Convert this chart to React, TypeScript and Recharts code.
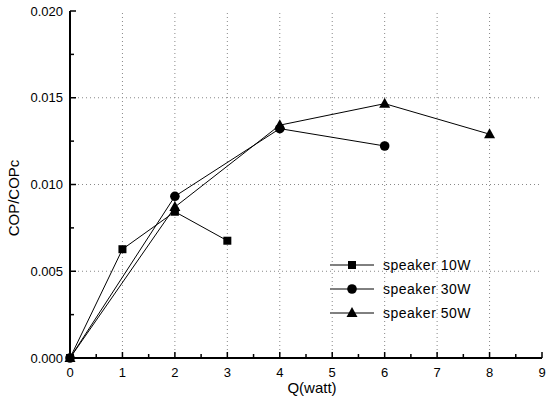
import { LineChart, Line, XAxis, YAxis, ReferenceLine } from "recharts";

const xMajor = [0, 1, 2, 3, 4, 5, 6, 7, 8, 9];
const xTicks = [0, 0.5, 1, 1.5, 2, 2.5, 3, 3.5, 4, 4.5, 5, 5.5, 6, 6.5, 7, 7.5, 8, 8.5, 9];
const yMajor = [0, 0.005, 0.01, 0.015, 0.02];
const yTicks = [0, 0.0025, 0.005, 0.0075, 0.01, 0.0125, 0.015, 0.0175, 0.02];

const q10 = [0, 1, 2, 3];
const cop10 = [0, 0.00627, 0.00843, 0.00676];
const q30 = [0, 2, 4, 6];
const cop30 = [0, 0.00932, 0.01322, 0.01222];
const q50 = [0, 2, 4, 6, 8];
const cop50 = [0, 0.0087, 0.01342, 0.01466, 0.0129];

const series = [
  { name: "speaker 10W", shape: "square", data: q10.map((q, i) => ({ q, v: cop10[i] })) },
  { name: "speaker 30W", shape: "circle", data: q30.map((q, i) => ({ q, v: cop30[i] })) },
  { name: "speaker 50W", shape: "triangle", data: q50.map((q, i) => ({ q, v: cop50[i] })) },
];

const FONT = "Liberation Sans, Arial, sans-serif";

function Marker({ cx, cy, shape }: any) {
  if (cx == null || cy == null) return null;
  if (shape === "square") return <rect x={cx - 4} y={cy - 4} width={8} height={8} fill="#000" />;
  if (shape === "circle") return <circle cx={cx} cy={cy} r={4.8} fill="#000" />;
  return <polygon points={`${cx},${cy - 6} ${cx - 5.5},${cy + 4} ${cx + 5.5},${cy + 4}`} fill="#000" />;
}

function XTick({ x, y, payload }: any) {
  const major = Number.isInteger(payload.value);
  return (
    <g>
      <line x1={x} y1={y} x2={x} y2={y - (major ? 6 : 4)} stroke="#000" strokeWidth={1.5} />
      {major && (
        <text x={x} y={y + 19} textAnchor="middle" fontSize={13} fontFamily={FONT} fill="#000">
          {payload.value}
        </text>
      )}
    </g>
  );
}

function YTick({ x, y, payload }: any) {
  const major = yMajor.includes(payload.value);
  return (
    <g>
      <line x1={x} y1={y} x2={x + (major ? 6 : 4)} y2={y} stroke="#000" strokeWidth={1.5} />
      {major && (
        <text x={x - 7} y={y + 4.5} textAnchor="end" fontSize={13} fontFamily={FONT} fill="#000">
          {payload.value.toFixed(3)}
        </text>
      )}
    </g>
  );
}

// legend drawn straight into the svg so it doesn't shrink the plot
function LegendRows() {
  return (
    <g fontFamily={FONT} fontSize={14} fill="#000">
      {series.map((s, i) => {
        const y = 265 + i * 24;
        return (
          <g key={s.name}>
            <line x1={330} y1={y} x2={374} y2={y} stroke="#000" strokeWidth={1} />
            <Marker cx={352} cy={y} shape={s.shape} />
            <text x={383} y={y + 5} letterSpacing={0.5}>
              {s.name}
            </text>
          </g>
        );
      })}
    </g>
  );
}

export default function App() {
  return (
    <div style={{ position: "absolute", left: 0, top: 0, width: 547, height: 401, background: "#fff" }}>
      <LineChart width={547} height={401} margin={{ top: 11, right: 5, left: 0, bottom: 0 }}>
        <XAxis
          dataKey="q"
          type="number"
          domain={[0, 9]}
          ticks={xTicks}
          interval={0}
          height={43}
          tickSize={0}
          tickMargin={0}
          tick={<XTick />}
          axisLine={{ stroke: "#000", strokeWidth: 2 }}
          allowDuplicatedCategory={false}
        />
        <XAxis xAxisId="top" orientation="top" type="number" domain={[0, 9]} height={0} tick={false} tickLine={false} axisLine={{ stroke: "#000", strokeWidth: 2 }} />
        <YAxis
          type="number"
          domain={[0, 0.02]}
          ticks={yTicks}
          interval={0}
          width={70}
          tickSize={0}
          tickMargin={0}
          tick={<YTick />}
          axisLine={{ stroke: "#000", strokeWidth: 2 }}
        />
        <YAxis yAxisId="right" orientation="right" domain={[0, 0.02]} width={0} tick={false} tickLine={false} axisLine={{ stroke: "#000", strokeWidth: 1.5 }} />
        {xMajor.slice(1, -1).map((v) => (
          <ReferenceLine key={"x" + v} x={v} stroke="#888" strokeDasharray="1 3" />
        ))}
        {yMajor.slice(1, -1).map((v) => (
          <ReferenceLine key={"y" + v} y={v} stroke="#888" strokeDasharray="1 3" />
        ))}
        {series.map((s) => (
          <Line
            key={s.name}
            data={s.data}
            dataKey="v"
            name={s.name}
            stroke="#000"
            strokeWidth={1}
            dot={<Marker shape={s.shape} />}
            isAnimationActive={false}
          />
        ))}
        <LegendRows />
        <text x={15} y={198} transform="rotate(-90 15 198)" textAnchor="middle" dominantBaseline="middle" fontSize={15} fontFamily={FONT} fill="#000">
          COP/COPc
        </text>
        <text x={312} y={393} textAnchor="middle" fontSize={15} fontFamily={FONT} fill="#000">
          Q(watt)
        </text>
      </LineChart>
    </div>
  );
}
